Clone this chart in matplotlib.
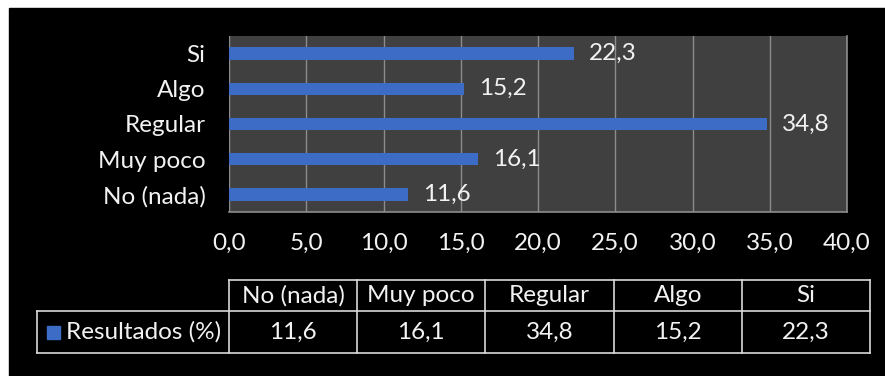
import numpy as np
import matplotlib
matplotlib.use("Agg")
import matplotlib.pyplot as plt
from matplotlib.patches import Rectangle

plt.rcParams['font.family'] = ['Lato', 'DejaVu Sans']

# data
categories = ['No (nada)', 'Muy poco', 'Regular', 'Algo', 'Si']
values = [11.6, 16.1, 34.8, 15.2, 22.3]
series_name = 'Resultados (%)'
xticks = np.arange(0, 45, 5)

txt = '#F2F2F2'
bar_col = '#3D6CC6'
fs = 17.5
W, H = 885, 376

fig = plt.figure(figsize=(W / 100, H / 100), dpi=100, facecolor='white')

# background layer in pixel coords
bg = fig.add_axes([0, 0, 1, 1])
bg.set_xlim(0, W)
bg.set_ylim(H, 0)
bg.axis('off')
bg.add_patch(Rectangle((9, 8), W - 9, H - 8, color='black'))

# main bar chart
ax = fig.add_axes([229 / W, 1 - 212 / H, (847 - 229) / W, (212 - 36) / H])
ax.set_facecolor('#404040')
y = np.arange(len(categories))
ax.barh(y, values, height=0.35, color=bar_col, zorder=3)
for yi, v in zip(y, values):
    ax.annotate(f'{v:.1f}'.replace('.', ','), (v, yi), xytext=(11, 0),
                textcoords='offset points', va='center', ha='left',
                color=txt, fontsize=fs)
ax.set_xlim(0, 40)
ax.set_ylim(-0.5, len(categories) - 0.5)
ax.set_xticks(xticks)
ax.set_xticklabels([f'{t:.1f}'.replace('.', ',') for t in xticks])
ax.set_yticks(y)
ax.set_yticklabels(categories)
ax.tick_params(colors=txt, labelsize=fs, length=0)
ax.tick_params(axis='x', pad=15)
ax.tick_params(axis='y', pad=17)
ax.grid(axis='x', color='#8C8C8C', linewidth=1, zorder=0)
for s in ['top', 'left']:
    ax.spines[s].set_visible(False)
for s in ['bottom', 'right']:
    ax.spines[s].set_color('#8C8C8C')
    ax.spines[s].set_linewidth(1.2)

# data table under the chart
cols = np.linspace(229, 870, len(categories) + 1)
top, mid, bot = 280, 311, 353
lc = '#D9D9D9'
bg.plot([cols[0], cols[-1]], [top, top], color=lc, lw=1.2)
bg.plot([37, cols[-1]], [mid, mid], color=lc, lw=1.2)
bg.plot([37, cols[-1]], [bot, bot], color=lc, lw=1.2)
bg.plot([37, 37], [mid, bot], color=lc, lw=1.2)
for c in cols:
    bg.plot([c, c], [top, bot], color=lc, lw=1.2)
for i, (cat, v) in enumerate(zip(categories, values)):
    cx = (cols[i] + cols[i + 1]) / 2
    bg.text(cx, (top + mid) / 2, cat, ha='center', va='center', color=txt, fontsize=fs)
    bg.text(cx, (mid + bot) / 2, f'{v:.1f}'.replace('.', ','), ha='center', va='center',
            color=txt, fontsize=fs)
bg.add_patch(Rectangle((47, 326), 13, 13, color=bar_col))
bg.text(66, (mid + bot) / 2, series_name, ha='left', va='center', color=txt, fontsize=fs)

fig.savefig('out.png', dpi=100, facecolor=fig.get_facecolor())
